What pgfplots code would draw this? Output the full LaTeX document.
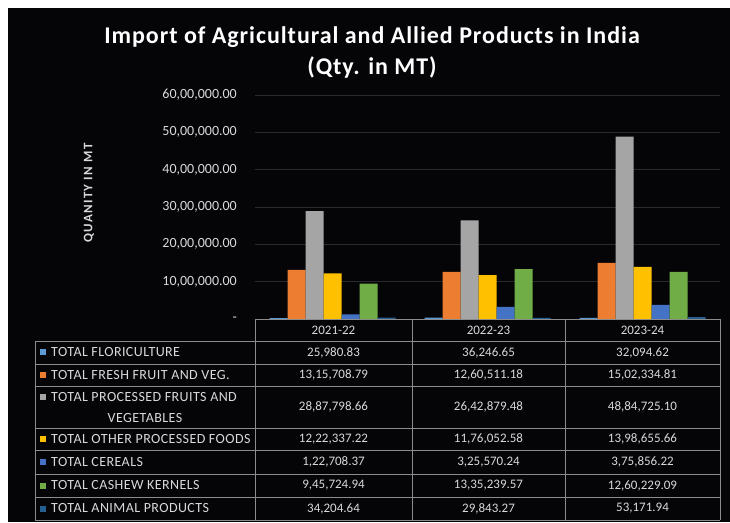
\documentclass[border=0pt]{standalone}
\usepackage{pgfplots}
\pgfplotsset{compat=1.18}
\usepackage{fontspec}
\setmainfont{Carlito}
\newfontfamily\titlefont[LetterSpace=4]{Carlito}
\newfontfamily\ylabfont[LetterSpace=10]{Carlito}
\newfontfamily\rowfont[LetterSpace=3]{Carlito}
\definecolor{c1}{HTML}{5B9BD5}
\definecolor{c2}{HTML}{ED7D31}
\definecolor{c3}{HTML}{A5A5A5}
\definecolor{c4}{HTML}{FFC000}
\definecolor{c5}{HTML}{4472C4}
\definecolor{c6}{HTML}{70AD47}
\definecolor{c7}{HTML}{255E91}
\definecolor{bg}{HTML}{050508}
\definecolor{txt}{HTML}{D9D9D9}
\definecolor{gridc}{HTML}{2A2A2E}
\definecolor{tline}{HTML}{8C8C8C}
\begin{document}
\begin{tikzpicture}[x=1pt,y=1pt]
\fill[white] (0,0) rectangle (730,522);
\fill[bg] (8,0) rectangle (730,514);
\useasboundingbox (0,0) rectangle (730,522);
% title
\node[text=white,font=\titlefont\fontsize{24}{27}\selectfont\bfseries] at (372,522-37) {Import of Agricultural and Allied Products in India};
\node[text=white,font=\titlefont\fontsize{24}{27}\selectfont\bfseries] at (372,522-67) {(Qty. in MT)};
\node[text=txt,rotate=90,font=\ylabfont\fontsize{13}{15}\selectfont\bfseries] at (89,522-193) {QUANITY IN MT};
\begin{axis}[
  at={(255pt,203pt)}, anchor=south west,
  scale only axis, width=465pt, height=224pt,
  xmin=-0.5, xmax=2.5, ymin=0, ymax=6000000,
  axis line style={draw=none}, tick style={draw=none},
  xtick=\empty,
  ytick={0,1000000,2000000,3000000,4000000,5000000,6000000},
  yticklabels={{-\hspace{6pt}},{10,00,000.00},{20,00,000.00},{30,00,000.00},{40,00,000.00},{50,00,000.00},{60,00,000.00}},
  scaled y ticks=false,
  yticklabel style={text=txt,font=\fontsize{14}{16}\selectfont,inner sep=0pt,anchor=east,xshift=-18pt},
  ymajorgrids, grid style={color=gridc,line width=0.7pt},
  ybar=0pt, bar width=18pt,
  clip=false,
]
\addplot[fill=c1,draw=none] coordinates {(0,25980.83) (1,36246.65) (2,32094.62)};
\addplot[fill=c2,draw=none] coordinates {(0,1315708.79) (1,1260511.18) (2,1502334.81)};
\addplot[fill=c3,draw=none] coordinates {(0,2887798.66) (1,2642879.48) (2,4884725.10)};
\addplot[fill=c4,draw=none] coordinates {(0,1222337.22) (1,1176052.58) (2,1398655.66)};
\addplot[fill=c5,draw=none] coordinates {(0,122708.37) (1,325570.24) (2,375856.22)};
\addplot[fill=c6,draw=none] coordinates {(0,945724.94) (1,1335239.57) (2,1260229.09)};
\addplot[fill=c7,draw=none] coordinates {(0,34204.64) (1,29843.27) (2,53171.94)};
\end{axis}
% data table lines
\draw[tline,line width=0.8pt] (255,522-319) -- (720,522-319);
\foreach \yy in {341,364,386,428,450,474,497,520} {
  \draw[tline,line width=0.8pt] (35,522-\yy) -- (720,522-\yy);
}
\draw[tline,line width=0.8pt] (35,522-341) -- (35,522-520);
\foreach \xx in {255,412,565,720} {
  \draw[tline,line width=0.8pt] (\xx,522-319) -- (\xx,522-520);
}
% header
\begin{scope}[every node/.style={text=txt,font=\fontsize{13}{15}\selectfont,inner sep=0pt}]
\node at (333.5,522-330) {2021-22};
\node at (488.5,522-330) {2022-23};
\node at (642.5,522-330) {2023-24};
\end{scope}
% row labels
\begin{scope}[every node/.style={text=txt,font=\rowfont\fontsize{14}{16}\selectfont,inner sep=0pt}]
\fill[c1] (40,522-355.5) rectangle +(6,6);
\node[anchor=west] at (51,522-352.5) {TOTAL FLORICULTURE};
\fill[c2] (40,522-378) rectangle +(6,6);
\node[anchor=west] at (51,522-375) {TOTAL FRESH FRUIT AND VEG.};
\fill[c3] (40,522-400) rectangle +(6,6);
\node[anchor=west] at (51,522-397) {TOTAL PROCESSED FRUITS AND};
\node at (145,522-418) {VEGETABLES};
\fill[c4] (40,522-442) rectangle +(6,6);
\node[anchor=west] at (51,522-439) {TOTAL OTHER PROCESSED FOODS};
\fill[c5] (40,522-465) rectangle +(6,6);
\node[anchor=west] at (51,522-462) {TOTAL CEREALS};
\fill[c6] (40,522-488.5) rectangle +(6,6);
\node[anchor=west] at (51,522-485.5) {TOTAL CASHEW KERNELS};
\fill[c7] (40,522-511.5) rectangle +(6,6);
\node[anchor=west] at (51,522-508.5) {TOTAL ANIMAL PRODUCTS};
\end{scope}
% numbers
\begin{scope}[every node/.style={text=txt,font=\fontsize{13}{15}\selectfont,inner sep=0pt}]
\node at (333.5,522-352.5) {25,980.83};
\node at (488.5,522-352.5) {36,246.65};
\node at (642.5,522-352.5) {32,094.62};
\node at (333.5,522-375) {13,15,708.79};
\node at (488.5,522-375) {12,60,511.18};
\node at (642.5,522-375) {15,02,334.81};
\node at (333.5,522-407) {28,87,798.66};
\node at (488.5,522-407) {26,42,879.48};
\node at (642.5,522-407) {48,84,725.10};
\node at (333.5,522-439) {12,22,337.22};
\node at (488.5,522-439) {11,76,052.58};
\node at (642.5,522-439) {13,98,655.66};
\node at (333.5,522-462) {1,22,708.37};
\node at (488.5,522-462) {3,25,570.24};
\node at (642.5,522-462) {3,75,856.22};
\node at (333.5,522-485.5) {9,45,724.94};
\node at (488.5,522-485.5) {13,35,239.57};
\node at (642.5,522-485.5) {12,60,229.09};
\node at (333.5,522-508.5) {34,204.64};
\node at (488.5,522-508.5) {29,843.27};
\node at (642.5,522-508.5) {53,171.94};
\end{scope}
\end{tikzpicture}
\end{document}
